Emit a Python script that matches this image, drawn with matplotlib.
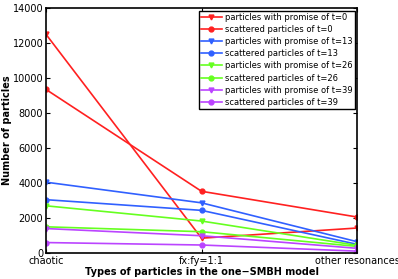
import matplotlib
matplotlib.use("Agg")
import matplotlib.pyplot as plt

categories = ["chaotic", "fx:fy=1:1", "other resonances"]

promise_t0 = [12500, 850, 1430]
scattered_t0 = [9350, 3530, 2060]
promise_t13 = [4050, 2870, 650]
scattered_t13 = [3050, 2440, 500]
promise_t26 = [2700, 1830, 440]
scattered_t26 = [1500, 1220, 380]
promise_t39 = [1400, 990, 270]
scattered_t39 = [600, 460, 110]

series = [
    (promise_t0, "v", "#ff2020", "particles with promise of t=0"),
    (scattered_t0, "o", "#ff2020", "scattered particles of t=0"),
    (promise_t13, "v", "#3060ff", "particles with promise of t=13"),
    (scattered_t13, "o", "#3060ff", "scattered particles of t=13"),
    (promise_t26, "v", "#66ff20", "particles with promise of t=26"),
    (scattered_t26, "o", "#66ff20", "scattered particles of t=26"),
    (promise_t39, "v", "#bb44ff", "particles with promise of t=39"),
    (scattered_t39, "o", "#bb44ff", "scattered particles of t=39"),
]

fig = plt.figure(figsize=(3.98, 2.79), dpi=100)
ax = fig.add_axes([0.1156, 0.093, 0.7814, 0.878])

x = range(len(categories))
for vals, m, c, lab in series:
    ax.plot(x, vals, marker=m, color=c, label=lab, lw=1.2, ms=3.5)

ax.set_xlim(0, 2)
ax.set_ylim(0, 14000)
ax.set_xticks(list(x))
ax.set_xticklabels(categories)
ax.set_yticks(range(0, 14001, 2000))
ax.tick_params(direction="in", labelsize=7, length=3, top=True, right=True, pad=2)
for s in ax.spines.values():
    s.set_linewidth(1.2)
ax.set_xlabel("Types of particles in the one\u2212SMBH model", fontsize=7, fontweight="bold", labelpad=1)
ax.set_ylabel("Number of particles", fontsize=7, fontweight="bold")
ax.yaxis.set_label_coords(-0.11, 0.5)

leg = ax.legend(loc="upper right", fontsize=6.0, handlelength=2.6, labelspacing=0.38,
                borderpad=0.25, handletextpad=0.3, fancybox=False, framealpha=1,
                borderaxespad=0.3)
leg.get_frame().set_edgecolor("black")
leg.get_frame().set_linewidth(1)

fig.savefig("out.png", dpi=100)
